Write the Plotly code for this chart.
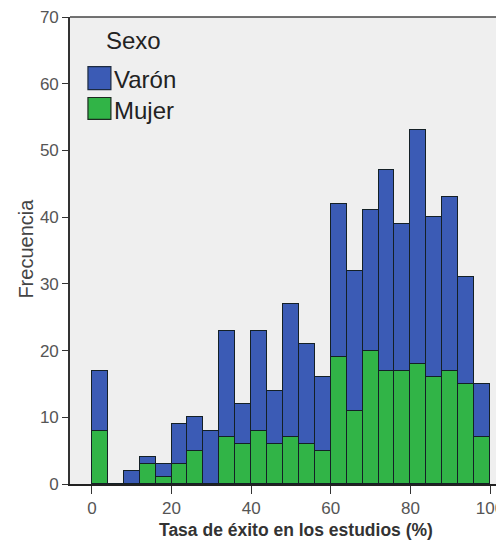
import plotly.graph_objects as go

# Data: histogram bins (width 4) of "Tasa de éxito en los estudios (%)"
bin_starts = [0, 4, 8, 12, 16, 20, 24, 28, 32, 36, 40, 44, 48, 52, 56, 60, 64, 68, 72, 76, 80, 84, 88, 92, 96]
bin_width = 4
mujer = [8, 0, 0, 3, 1, 3, 5, 0, 7, 6, 8, 6, 7, 6, 5, 19, 11, 20, 17, 17, 18, 16, 17, 15, 7]
varon = [9, 0, 2, 1, 2, 6, 5, 8, 16, 6, 15, 8, 20, 15, 11, 23, 21, 21, 30, 22, 35, 24, 26, 16, 8]
x_ticks = [0, 20, 40, 60, 80, 100]
y_ticks = [0, 10, 20, 30, 40, 50, 60, 70]

centers = [b + bin_width / 2 for b in bin_starts]

BLUE = "#3b5bb5"
GREEN = "#31b447"
EDGE = "#142026"
FONT = "Liberation Sans, Arial, sans-serif"

# page body has an 8px margin: work in screen pixels, then offset
OFF = 8
W, H = 504 - OFF, 543 - OFF
SL, ST, SB = 70, 14, 484          # screen coords of plot left, top, bottom
ML, MT, MR = SL - OFF, ST - OFF, 0
MB = H - (SB - OFF)
PW, PH = W - ML - MR, (SB - OFF) - MT

def px(xs):
    return (xs - SL) / PW

def py(ys):
    return (SB - ys) / PH

fig = go.Figure()
fig.add_trace(go.Bar(x=centers, y=mujer, width=bin_width, name="Mujer",
                     marker=dict(color=GREEN, line=dict(color=EDGE, width=1.3)),
                     showlegend=False))
fig.add_trace(go.Bar(x=centers, y=varon, width=bin_width, name="Varón",
                     marker=dict(color=BLUE, line=dict(color=EDGE, width=1.3)),
                     showlegend=False))

# x range: 0 at screen pixel 92, 100 at 491
ppu = (491 - 92) / 100
x0 = -(92 - SL) / ppu
x1 = x0 + PW / ppu

fig.update_layout(
    width=W, height=H,
    margin=dict(l=ML, r=MR, t=MT, b=MB),
    barmode="stack", bargap=0,
    plot_bgcolor="#efefef", paper_bgcolor="white",
    font=dict(family=FONT, color="#444"),
    xaxis=dict(range=[x0, x1], tickvals=x_ticks, ticks="outside", ticklen=8, tickwidth=1.3,
               tickcolor="#333", showline=True, linecolor="#222", linewidth=1.6,
               showgrid=False, zeroline=False, ticklabeloverflow="allow",
               tickfont=dict(size=17, color="#555")),
    yaxis=dict(range=[0, 70], tickvals=y_ticks, ticks="outside", ticklen=6, tickwidth=1.3,
               tickcolor="#333", showline=True, linecolor="#333", linewidth=1.6,
               showgrid=False, zeroline=False, ticklabeloverflow="allow",
               tickfont=dict(size=17, color="#555")),
    shapes=[
        dict(type="line", xref="paper", yref="paper", x0=0, x1=1, y0=1, y1=1,
             line=dict(color="#444", width=1.6)),
        dict(type="rect", xref="paper", yref="paper", x0=px(88), x1=px(111), y0=py(87), y1=py(64),
             fillcolor=BLUE, line=dict(color="#1c2a40", width=1.2)),
        dict(type="rect", xref="paper", yref="paper", x0=px(88), x1=px(111), y0=py(117), y1=py(95),
             fillcolor=GREEN, line=dict(color="#1c2a20", width=1.2)),
    ],
    annotations=[
        dict(text="Sexo", xref="paper", yref="paper", x=px(104), y=py(38), xanchor="left",
             yanchor="middle", showarrow=False, font=dict(size=24, color="#222")),
        dict(text="Varón", xref="paper", yref="paper", x=px(112), y=py(77), xanchor="left",
             yanchor="middle", showarrow=False, font=dict(size=24, color="#222")),
        dict(text="Mujer", xref="paper", yref="paper", x=px(112), y=py(108), xanchor="left",
             yanchor="middle", showarrow=False, font=dict(size=24, color="#222")),
        dict(text="<b>Tasa de éxito en los estudios (%)</b>", xref="paper", yref="paper",
             x=px(297), y=py(530), xanchor="center", yanchor="middle", showarrow=False,
             font=dict(size=17.5, color="#333")),
        dict(text="Frecuencia", xref="paper", yref="paper", x=px(25), y=py(247),
             xanchor="center", yanchor="middle", textangle=-90, showarrow=False,
             font=dict(size=20, color="#444")),
    ],
)

fig.write_html("out.html")
